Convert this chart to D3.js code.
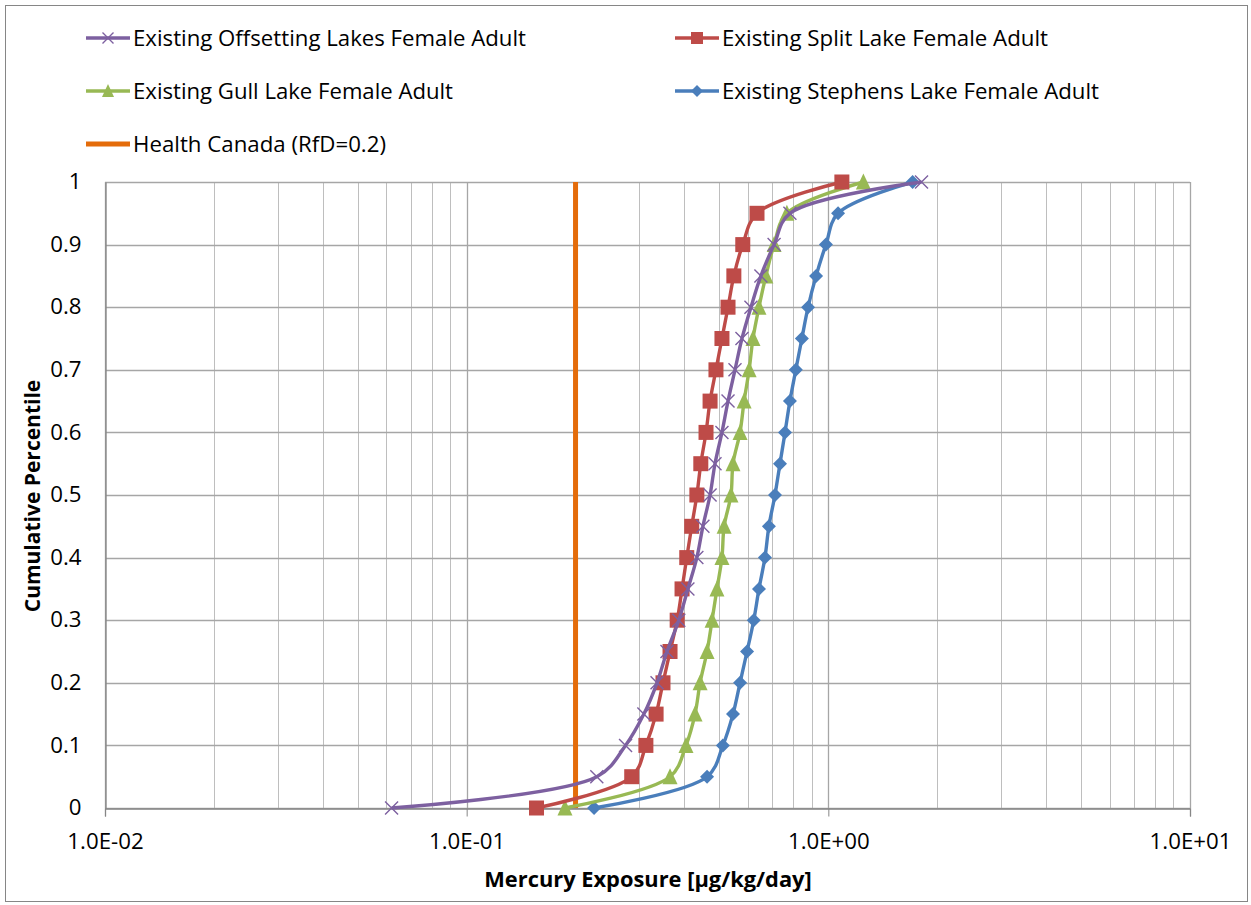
<!DOCTYPE html>
<html>
<head>
<meta charset="utf-8">
<script src="https://cdn.jsdelivr.net/npm/d3@7"></script>
<style>
  body { margin: 0; background: #fff; }
  svg { display: block; }
  text { font-family: "Open Sans", "Noto Sans", sans-serif; fill: #000; }
</style>
</head>
<body>
<svg id="chart" width="1251" height="905"></svg>
<script>
// Cumulative percentiles (0 to 1 in steps of 0.05)
const percentiles = [0, 0.05, 0.1, 0.15, 0.2, 0.25, 0.3, 0.35, 0.4, 0.45, 0.5,
                     0.55, 0.6, 0.65, 0.7, 0.75, 0.8, 0.85, 0.9, 0.95, 1];

// Mercury exposure (µg/kg/day) at each percentile
const offsettingLakes = [0.062, 0.229, 0.275, 0.309, 0.336, 0.358, 0.386, 0.409, 0.433, 0.450, 0.471,
                         0.486, 0.508, 0.528, 0.552, 0.577, 0.611, 0.651, 0.708, 0.783, 1.81];
const splitLake = [0.156, 0.286, 0.313, 0.334, 0.349, 0.365, 0.382, 0.394, 0.406, 0.419, 0.433,
                   0.444, 0.459, 0.471, 0.489, 0.508, 0.528, 0.548, 0.580, 0.635, 1.09];
const gullLake = [0.187, 0.365, 0.404, 0.428, 0.442, 0.462, 0.477, 0.492, 0.508, 0.515, 0.538,
                  0.545, 0.570, 0.585, 0.604, 0.619, 0.643, 0.672, 0.708, 0.768, 1.25];
const stephensLake = [0.225, 0.462, 0.511, 0.545, 0.570, 0.596, 0.622, 0.643, 0.668, 0.685, 0.712,
                      0.735, 0.759, 0.783, 0.813, 0.845, 0.879, 0.925, 0.985, 1.064, 1.71];

// Health Canada reference dose
const healthCanadaRfD = 0.2;

const xTickValues = [0.01, 0.1, 1, 10];
const xTickLabels = ["1.0E-02", "1.0E-01", "1.0E+00", "1.0E+01"];
const yTickValues = [0, 0.1, 0.2, 0.3, 0.4, 0.5, 0.6, 0.7, 0.8, 0.9, 1];
const yTickLabels = ["0", "0.1", "0.2", "0.3", "0.4", "0.5", "0.6", "0.7", "0.8", "0.9", "1"];

const seriesNames = ["Existing Offsetting Lakes Female Adult", "Existing Split Lake Female Adult",
                     "Existing Gull Lake Female Adult", "Existing Stephens Lake Female Adult"];
const seriesValues = [offsettingLakes, splitLake, gullLake, stephensLake];
const seriesColors = ["#7D60A0", "#BE4B48", "#98B954", "#4A7EBB"];
const seriesMarkers = ["x", "square", "triangle", "diamond"];
const refName = "Health Canada (RfD=0.2)";
const refColor = "#E46C0A";

const svg = d3.select("#chart");
const W = 1251, H = 905;
const plot = { left: 105, right: 1190, top: 182, bottom: 808 };
const FONT = 21;
// Horizontal stretch so the sans face spans the same width as the original narrow face
const WIDTH_FACTOR = 1.06;

function fitText(sel, factor) {
  sel.each(function () {
    const w = this.getComputedTextLength();
    d3.select(this).attr("textLength", w * factor).attr("lengthAdjust", "spacingAndGlyphs");
  });
}

// Outer chart border
svg.append("rect").attr("x", 5.5).attr("y", 5.5).attr("width", W - 9).attr("height", H - 9)
  .attr("fill", "#fff").attr("stroke", "#868686").attr("stroke-width", 1);

const x = d3.scaleLog().domain([0.01, 10]).range([plot.left, plot.right]);
const y = d3.scaleLinear().domain([0, 1]).range([plot.bottom, plot.top]);

// Vertical gridlines: minor (2..9 per decade) and major (decades)
const minorX = [];
[0.01, 0.1, 1].forEach(d => { for (let k = 2; k <= 9; k++) minorX.push(d * k); });
const grid = svg.append("g");
grid.selectAll(".vminor").data(minorX).join("line")
  .attr("x1", d => Math.round(x(d)) + 0.5).attr("x2", d => Math.round(x(d)) + 0.5)
  .attr("y1", plot.top).attr("y2", plot.bottom)
  .attr("stroke", "#BEBEBE").attr("stroke-width", 1);
grid.selectAll(".vmajor").data(xTickValues).join("line")
  .attr("x1", d => Math.round(x(d)) + 0.5).attr("x2", d => Math.round(x(d)) + 0.5)
  .attr("y1", plot.top).attr("y2", plot.bottom)
  .attr("stroke", "#A6A6A6").attr("stroke-width", 1.3);
grid.selectAll(".hmajor").data(yTickValues).join("line")
  .attr("x1", plot.left).attr("x2", plot.right)
  .attr("y1", d => Math.round(y(d)) + 0.5).attr("y2", d => Math.round(y(d)) + 0.5)
  .attr("stroke", "#A6A6A6").attr("stroke-width", 1.3);

// Axes
const xAxis = d3.axisBottom(x).tickValues(xTickValues)
  .tickFormat((d, i) => xTickLabels[i]).tickSize(8).tickPadding(18);
const gx = svg.append("g").attr("transform", `translate(0,${plot.bottom + 0.5})`).call(xAxis);
gx.select(".domain").attr("stroke", "#868686").attr("stroke-width", 1.3);
gx.selectAll(".tick line").attr("stroke", "#868686");
gx.selectAll("text").attr("font-size", FONT).attr("fill", "#000")
  .attr("font-family", "'Open Sans', sans-serif").call(fitText, WIDTH_FACTOR);

const yAxis = d3.axisLeft(y).tickValues(yTickValues)
  .tickFormat((d, i) => yTickLabels[i]).tickSize(0).tickPadding(24);
const gy = svg.append("g").attr("transform", `translate(${plot.left + 0.5},0)`).call(yAxis);
gy.select(".domain").attr("stroke", "#868686").attr("stroke-width", 1.3);
gy.selectAll("text").attr("font-size", FONT).attr("fill", "#000")
  .attr("font-family", "'Open Sans', sans-serif").call(fitText, WIDTH_FACTOR);

// Axis titles
svg.append("text").attr("x", 648).attr("y", 887)
  .attr("text-anchor", "middle").attr("font-size", FONT).attr("font-weight", "bold")
  .text("Mercury Exposure [µg/kg/day]").call(fitText, 1.04);
svg.append("text").attr("transform", `translate(40,496) rotate(-90)`)
  .attr("text-anchor", "middle").attr("font-size", FONT).attr("font-weight", "bold")
  .text("Cumulative Percentile").call(fitText, 1.0);

// Health Canada reference line
svg.append("line")
  .attr("x1", x(healthCanadaRfD)).attr("x2", x(healthCanadaRfD))
  .attr("y1", y(1)).attr("y2", y(0))
  .attr("stroke", refColor).attr("stroke-width", 5);

// Marker drawing
function drawMarker(g, type, color, size) {
  const s = size / 2;
  if (type === "x") {
    g.append("path").attr("d", `M${-s},${-s}L${s},${s}M${-s},${s}L${s},${-s}`)
      .attr("stroke", color).attr("stroke-width", 1.4).attr("fill", "none");
  } else if (type === "square") {
    g.append("rect").attr("x", -s).attr("y", -s).attr("width", size).attr("height", size)
      .attr("fill", color);
  } else if (type === "triangle") {
    g.append("path").attr("d", `M0,${-s - 1}L${s},${s}L${-s},${s}Z`).attr("fill", color);
  } else if (type === "diamond") {
    g.append("path").attr("d", `M0,${-s}L${s},0L0,${s}L${-s},0Z`).attr("fill", color);
  }
}
const markerSizes = { x: 13, square: 15, triangle: 15, diamond: 14 };

const line = d3.line()
  .x(d => x(d[0])).y(d => y(d[1]))
  .curve(d3.curveCatmullRom.alpha(0.5));

// Draw order: Stephens, Gull, Split, Offsetting on top
const order = [3, 2, 1, 0];
order.forEach(i => {
  const pts = seriesValues[i].map((v, j) => [v, percentiles[j]]);
  const g = svg.append("g");
  g.append("path").attr("d", line(pts)).attr("fill", "none")
    .attr("stroke", seriesColors[i]).attr("stroke-width", 3.4)
    .attr("stroke-linejoin", "round");
  pts.forEach(p => {
    const m = g.append("g").attr("transform", `translate(${x(p[0])},${y(p[1])})`);
    drawMarker(m, seriesMarkers[i], seriesColors[i], markerSizes[seriesMarkers[i]]);
  });
});

// Legend
const legendItems = [
  { name: seriesNames[0], color: seriesColors[0], marker: "x", lx: 86, ly: 38, w: 393 },
  { name: seriesNames[1], color: seriesColors[1], marker: "square", lx: 675, ly: 38, w: 326 },
  { name: seriesNames[2], color: seriesColors[2], marker: "triangle", lx: 86, ly: 91, w: 320 },
  { name: seriesNames[3], color: seriesColors[3], marker: "diamond", lx: 675, ly: 91, w: 377 },
  { name: refName, color: refColor, marker: null, lx: 86, ly: 144, w: 253 }
];
legendItems.forEach(it => {
  const g = svg.append("g").attr("transform", `translate(${it.lx},${it.ly})`);
  g.append("line").attr("x1", 0).attr("x2", 44).attr("y1", 0).attr("y2", 0)
    .attr("stroke", it.color).attr("stroke-width", it.marker ? 3.4 : 5);
  if (it.marker) {
    const m = g.append("g").attr("transform", "translate(22,0)");
    drawMarker(m, it.marker, it.color, it.marker === "x" ? 11 : 12);
  }
  g.append("text").attr("x", 47).attr("y", 8).attr("font-size", FONT)
    .attr("textLength", it.w).attr("lengthAdjust", "spacingAndGlyphs")
    .text(it.name);
});
</script>
</body>
</html>
